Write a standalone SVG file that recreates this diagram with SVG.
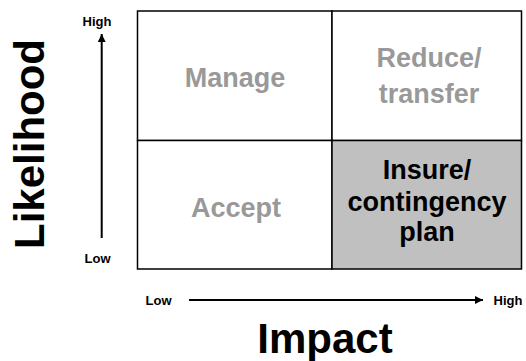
<svg xmlns="http://www.w3.org/2000/svg" width="526" height="361" viewBox="0 0 526 361">
<defs>
<marker id="ah" viewBox="0 0 10 10" refX="10" refY="5" markerWidth="4.5" markerHeight="4" orient="auto" markerUnits="strokeWidth">
<path d="M0,0 L10,5 L0,10 z" fill="#000"/>
</marker>
<style>
text{font-family:"Liberation Sans",Arial,sans-serif;font-weight:bold;text-anchor:middle}
.cell{fill:#fff;stroke:#000;stroke-width:1.5}
.hot{fill:#c0c0c0}
.dim{fill:#999;font-size:27px}
.dark{fill:#000;font-size:27px}
.small{fill:#000;font-size:13px}
.axis{stroke:#000;stroke-width:2;fill:none}
.big{fill:#000;font-size:42px}
</style>
</defs>
<rect width="526" height="361" fill="#fff"/>
<g id="manage">
<rect class="cell" x="137.5" y="11" width="194.5" height="129.5"/>
<text class="dim" x="235" y="87">Manage</text>
</g>
<g id="reduce">
<rect class="cell" x="332" y="11" width="189.5" height="129.5"/>
<text class="dim" x="429" y="67">Reduce/</text>
<text class="dim" x="429" y="103">transfer</text>
</g>
<g id="accept">
<rect class="cell" x="137.5" y="140.5" width="194.5" height="128.5"/>
<text class="dim" x="236" y="217">Accept</text>
</g>
<g id="insure">
<rect class="cell hot" x="332" y="140.5" width="189.5" height="128.5"/>
<text class="dark" x="427" y="179">Insure/</text>
<text class="dark" x="427" y="211">contingency</text>
<text class="dark" x="427" y="241">plan</text>
</g>
<g id="connectors">
<line class="axis" x1="101.7" y1="238" x2="101.7" y2="34" marker-end="url(#ah)"/>
<line class="axis" x1="189" y1="300" x2="483" y2="300" marker-end="url(#ah)"/>
</g>
<g id="labels">
<text class="small" x="97" y="26">High</text>
<text class="small" x="97.5" y="263">Low</text>
<text class="small" x="158.5" y="305">Low</text>
<text class="small" x="508" y="305">High</text>
<text class="big" x="325" y="353">Impact</text>
<text class="big" transform="translate(44,144) rotate(-90)">Likelihood</text>
</g>
</svg>
